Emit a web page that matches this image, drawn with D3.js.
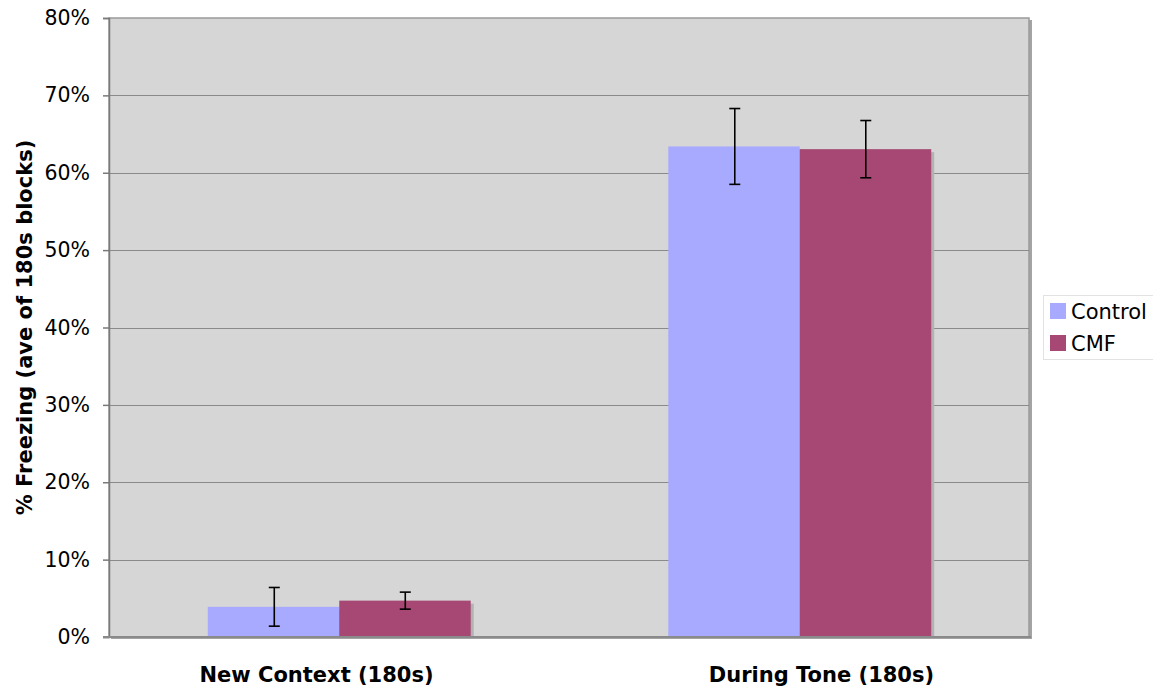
<!DOCTYPE html>
<html><head><meta charset="utf-8">
<script src="https://cdn.jsdelivr.net/npm/d3@7"></script>
<style>body{margin:0;background:#fff}svg{display:block}</style>
</head><body>
<svg id="chart" width="1153" height="688"></svg>
<script>
const categories = ["New Context (180s)", "During Tone (180s)"];
const seriesNames = ["Control", "CMF"];
const controlValues = [3.9, 63.4];
const cmfValues = [4.7, 63.05];
const controlErrors = [2.5, 4.9];
const cmfErrors = [1.1, 3.7];
const yTicks = [0, 10, 20, 30, 40, 50, 60, 70, 80];
const colors = ["#a8aaff", "#a64873"];

const svg = d3.select("#chart");
const m = {left: 109, right: 1029, top: 18, bottom: 637};
const x = d3.scaleBand().domain(categories).range([m.left, m.right + 1]).paddingInner(0.429).paddingOuter(0.2145);
const xLabel = d3.scalePoint().domain(categories).range([m.left, m.right]).padding(0.411);
const xs = d3.scaleBand().domain(seriesNames).range([0, x.bandwidth()]).padding(0);
const y = d3.scaleLinear().domain([0, 80]).range([m.bottom, m.top]);
const font = "DejaVu Sans, Verdana, sans-serif";

// plot frame shadow
svg.append("rect").attr("x", m.left + 2).attr("y", m.top + 2).attr("width", m.right - m.left + 1).attr("height", m.bottom - m.top)
  .attr("fill", "#a4a4a4");
svg.append("rect").attr("x", m.left).attr("y", m.top).attr("width", m.right - m.left).attr("height", m.bottom - m.top)
  .attr("fill", "#d6d6d6").attr("stroke", "#9a9a9a").attr("stroke-width", 1.5);

// gridlines
svg.append("g").selectAll("line").data(yTicks.filter(d => d > 0 && d < 80)).join("line")
  .attr("x1", m.left).attr("x2", m.right).attr("y1", d => Math.round(y(d)) + 0.5).attr("y2", d => Math.round(y(d)) + 0.5)
  .attr("stroke", "#8a8a8a").attr("stroke-width", 1);

const data = categories.map((c, i) => ({cat: c, vals: [
  {s: "Control", v: controlValues[i], e: controlErrors[i]},
  {s: "CMF", v: cmfValues[i], e: cmfErrors[i]}]}));

const groups = svg.append("g").selectAll("g").data(data).join("g")
  .attr("transform", d => `translate(${x(d.cat)},0)`);
// shadows
groups.selectAll("rect.sh").data(d => d.vals).join("rect").attr("class", "sh")
  .attr("x", d => xs(d.s) + 3).attr("y", d => y(d.v) + 3).attr("width", xs.bandwidth())
  .attr("height", d => m.bottom - y(d.v) - 3).attr("fill", "#b2b2b2");
groups.selectAll("rect.bar").data(d => d.vals).join("rect").attr("class", "bar")
  .attr("x", d => xs(d.s)).attr("y", d => y(d.v)).attr("width", xs.bandwidth())
  .attr("height", d => m.bottom - y(d.v)).attr("fill", (d, i) => colors[i]);
// error bars
const eb = groups.selectAll("g.eb").data(d => d.vals).join("g").attr("class", "eb")
  .attr("transform", d => `translate(${Math.round(xs(d.s) + xs.bandwidth() / 2) + 0.5},0)`);
eb.append("line").attr("y1", d => y(d.v - d.e)).attr("y2", d => y(d.v + d.e)).attr("stroke", "#000").attr("stroke-width", 1.6);
eb.append("line").attr("x1", -5.5).attr("x2", 5.5).attr("y1", d => y(d.v + d.e)).attr("y2", d => y(d.v + d.e)).attr("stroke", "#000").attr("stroke-width", 1.6);
eb.append("line").attr("x1", -5.5).attr("x2", 5.5).attr("y1", d => y(d.v - d.e)).attr("y2", d => y(d.v - d.e)).attr("stroke", "#000").attr("stroke-width", 1.6);

// y axis
const yAxis = svg.append("g").attr("transform", `translate(${m.left},0)`)
  .call(d3.axisLeft(y).tickValues(yTicks).tickFormat(d => d + "%").tickSize(6).tickPadding(13));
yAxis.select(".domain").attr("stroke", "#7a7a7a").attr("stroke-width", 1.5);
yAxis.selectAll(".tick line").attr("stroke", "#7a7a7a").attr("stroke-width", 1.5);
yAxis.selectAll("text").attr("font-family", font).attr("font-size", 20.5).attr("fill", "#000");

// bottom axis line
svg.append("line").attr("x1", m.left - 6).attr("x2", m.right + 2).attr("y1", m.bottom).attr("y2", m.bottom)
  .attr("stroke", "#8a8a8a").attr("stroke-width", 2);

// x labels
svg.append("g").selectAll("text").data(categories).join("text")
  .attr("x", d => xLabel(d)).attr("y", 682)
  .attr("text-anchor", "middle").attr("font-family", font).attr("font-weight", "bold").attr("font-size", 21)
  .text(d => d);

// y title
svg.append("text").attr("transform", `translate(32,${(m.top + m.bottom) / 2}) rotate(-90)`)
  .attr("text-anchor", "middle").attr("font-family", font).attr("font-weight", "bold").attr("font-size", 21)
  .text("% Freezing (ave of 180s blocks)");

// legend
const lg = svg.append("g");
lg.append("rect").attr("x", 1043.5).attr("y", 295.5).attr("width", 120).attr("height", 64)
  .attr("fill", "#fff").attr("stroke", "#e2e2e2");
const li = lg.selectAll("g").data(seriesNames).join("g")
  .attr("transform", (d, i) => `translate(1050,${303 + i * 32})`);
li.append("rect").attr("width", 16).attr("height", 16).attr("fill", (d, i) => colors[i]);
li.append("text").attr("x", 21).attr("y", 15.5).attr("font-family", font).attr("font-size", 21).text(d => d);
</script>
</body></html>
